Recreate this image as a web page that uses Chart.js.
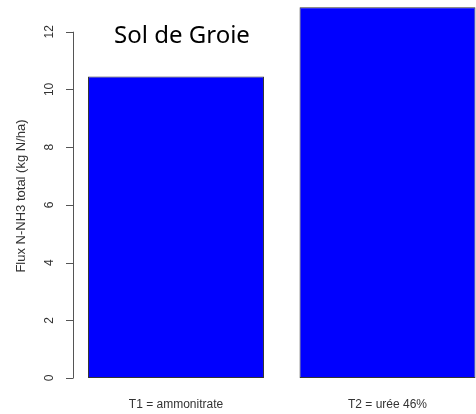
<!DOCTYPE html>
<html>
<head>
<meta charset="utf-8">
<script src="https://cdn.jsdelivr.net/npm/chart.js@4.4.1/dist/chart.umd.min.js"></script>
<style>
  html, body { margin: 0; padding: 0; background: #fff; }
</style>
</head>
<body>
<canvas id="graphe" width="476" height="414"></canvas>
<script>
// ===== DONNEES =====
const categories = ["T1 = ammonitrate", "T2 = urée 46%"];
const positions = [1, 2];
const fluxNH3 = [10.45, 12.85];
const yTicks = [0, 2, 4, 6, 8, 10, 12];
const titre = "Sol de Groie";
const titreAxeY = "Flux N-NH3 total (kg N/ha)";

// ===== AXES FACON R =====
const axesR = {
  id: "axesR",
  afterDraw(chart) {
    const ctx = chart.ctx;
    const x = chart.scales.x;
    const y = chart.scales.y;
    const axeX = 73;

    ctx.save();
    // ligne de l'axe y (de 0 a 12 seulement)
    ctx.strokeStyle = "#555";
    ctx.lineWidth = 1;
    ctx.beginPath();
    ctx.moveTo(axeX + 0.5, y.getPixelForValue(yTicks[0]));
    ctx.lineTo(axeX + 0.5, y.getPixelForValue(yTicks[yTicks.length - 1]));
    yTicks.forEach(t => {
      const py = Math.round(y.getPixelForValue(t)) + 0.5;
      ctx.moveTo(axeX + 0.5, py);
      ctx.lineTo(axeX - 7, py);
    });
    ctx.stroke();

    // etiquettes y tournees
    ctx.fillStyle = "#333";
    ctx.font = "12px 'Liberation Sans', Arial, sans-serif";
    ctx.textAlign = "center";
    ctx.textBaseline = "middle";
    yTicks.forEach(t => {
      ctx.save();
      ctx.translate(50, y.getPixelForValue(t));
      ctx.rotate(-Math.PI / 2);
      ctx.fillText(String(t), 0, 0);
      ctx.restore();
    });

    // etiquettes x
    categories.forEach((c, i) => {
      ctx.fillText(c, x.getPixelForValue(positions[i]), 405);
    });

    // titre de l'axe y
    ctx.save();
    ctx.font = "13px 'Liberation Sans', Arial, sans-serif";
    ctx.translate(21, 196);
    ctx.rotate(-Math.PI / 2);
    ctx.fillText(titreAxeY, 0, 0);
    ctx.restore();

    // titre
    ctx.fillStyle = "#000";
    ctx.font = "24px 'Noto Sans', 'Open Sans', sans-serif";
    ctx.textBaseline = "alphabetic";
    ctx.fillText(titre, 182, 43);
    ctx.restore();
  }
};

// ===== GRAPHIQUE =====
new Chart(document.getElementById("graphe"), {
  type: "bar",
  data: {
    datasets: [{
      data: positions.map((p, i) => ({ x: p, y: fluxNH3[i] })),
      backgroundColor: "#0000ff",
      borderColor: "#333",
      borderWidth: 1,
      borderSkipped: false,
      barPercentage: 0.832,
      categoryPercentage: 1
    }]
  },
  options: {
    responsive: false,
    animation: false,
    devicePixelRatio: 1,
    layout: { padding: { left: 73, right: 0, top: 0, bottom: 36 } },
    plugins: { legend: { display: false }, tooltip: { enabled: false } },
    scales: {
      x: {
        type: "linear",
        display: false,
        offset: false,
        grid: { offset: false },
        min: 0.513,
        max: 2.4184,
        afterBuildTicks: s => { s.ticks = positions.map(v => ({ value: v })); }
      },
      y: {
        display: false,
        min: 0,
        max: 13.1
      }
    }
  },
  plugins: [axesR]
});
</script>
</body>
</html>
